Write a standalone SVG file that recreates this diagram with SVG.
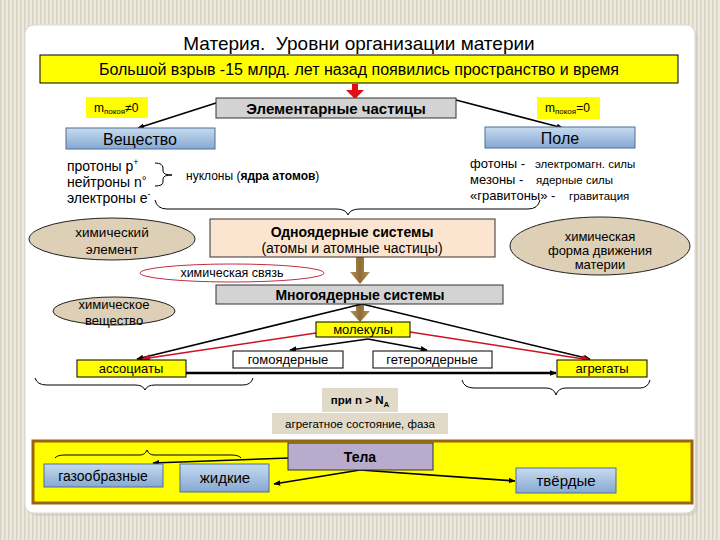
<svg xmlns="http://www.w3.org/2000/svg" width="720" height="540" viewBox="0 0 720 540">
<defs>
<pattern id="stripes" width="4" height="4" patternUnits="userSpaceOnUse">
<rect width="4" height="4" fill="#ede9df"/>
<rect width="1.5" height="4" fill="#d8d3c3"/>
</pattern>
<linearGradient id="blue" x1="0" y1="0" x2="0" y2="1">
<stop offset="0" stop-color="#c6dbef"/>
<stop offset="1" stop-color="#86a8d2"/>
</linearGradient>
<linearGradient id="brown" x1="0" y1="0" x2="1" y2="0">
<stop offset="0" stop-color="#b8955a"/>
<stop offset="0.5" stop-color="#8e6c35"/>
<stop offset="1" stop-color="#b8955a"/>
</linearGradient>
<marker id="ah" viewBox="0 0 10 10" refX="9" refY="5" markerWidth="7" markerHeight="7" orient="auto" markerUnits="userSpaceOnUse">
<path d="M0,1 L10,5 L0,9 Z" fill="#000"/>
</marker>
<marker id="ahr" viewBox="0 0 10 10" refX="9" refY="5" markerWidth="9" markerHeight="9" orient="auto" markerUnits="userSpaceOnUse">
<path d="M0,1 L10,5 L0,9 Z" fill="#d01020"/>
</marker>
</defs>
<style>
text{font-family:"Liberation Sans",Arial,sans-serif;fill:#000}
.c{text-anchor:middle}
.b{font-weight:bold}
.box{stroke:#000;stroke-width:1}
.yel{fill:#ffff00}
.gray{fill:#d3d3d3;stroke:#333;stroke-width:1}
.blue{fill:url(#blue);stroke:#4f6f96;stroke-width:1}
.tan{fill:#e2dac8}
.ell{fill:#ddd0b6;stroke:#222;stroke-width:1}
.line{stroke:#000;stroke-width:1.6;fill:none}
.red{stroke:#d01020;stroke-width:1.6;fill:none}
.brace{stroke:#000;stroke-width:1;fill:none}
</style>
<rect x="0" y="0" width="720" height="540" fill="url(#stripes)"/>
<rect x="28" y="28" width="670" height="488" rx="9" fill="#cfcabd" opacity="0.6"/>
<rect x="25" y="25" width="670" height="488" rx="9" fill="#ffffff" stroke="#dedbd2"/>

<text x="359" y="50" class="c" font-size="19" xml:space="preserve">Материя.  Уровни организации материи</text>

<g id="bigbang">
<rect x="40" y="55" width="638" height="28" class="yel box"/>
<text x="359" y="75" class="c" font-size="16">Большой взрыв -15 млрд. лет назад появились пространство и время</text>
</g>

<g id="connectors">
<path d="M352,84 L358,84 L358,90 L364,90 L355,99 L346,90 L352,90 Z" fill="#e0101a"/>
<line x1="216" y1="103" x2="138" y2="128" class="line" marker-end="url(#ah)"/>
<line x1="456" y1="100" x2="563" y2="128" class="line" marker-end="url(#ah)"/>
<path d="M155,163 Q163,163 163,168 L163,171 Q163,175 172,175 Q163,175 163,179 L163,182 Q163,186 155,186" class="brace"/>
<path d="M155,200 Q157,209 167,209 L336,209 Q346,209 348,215 Q350,209 360,209 L528,209 Q538,209 540,200" class="brace"/>
<path d="M356,257 L364,257 L364,272 L370,272 L360,284 L350,272 L356,272 Z" fill="url(#brown)"/>
<path d="M356,304 L364,304 L364,311 L370,311 L360,322 L350,311 L356,311 Z" fill="url(#brown)"/>
<line x1="362" y1="304" x2="137" y2="359" class="line" marker-end="url(#ah)"/>
<line x1="362" y1="304" x2="590" y2="359" class="line" marker-end="url(#ah)"/>
<line x1="316" y1="333" x2="142" y2="359" class="red" marker-end="url(#ahr)"/>
<line x1="410" y1="332" x2="590" y2="360" class="red" marker-end="url(#ahr)"/>
<line x1="368" y1="339" x2="290" y2="350" class="line" marker-end="url(#ah)"/>
<line x1="368" y1="339" x2="427" y2="350" class="line" marker-end="url(#ah)"/>
<line x1="186" y1="373" x2="556" y2="373" stroke="#000" stroke-width="2.5" marker-end="url(#ah)"/>
<path d="M35,378 Q37,385 47,385 L135,385 Q143,385 145,390 Q147,385 155,385 L243,385 Q251,385 253,378" class="brace"/>
<path d="M462,380 Q464,388 474,388 L546,388 Q554,388 556,395 Q558,388 566,388 L640,388 Q648,388 650,380" class="brace"/>
</g>

<g id="m-nonzero">
<rect x="86" y="97" width="62" height="21" class="yel"/>
<text x="94" y="112" font-size="12">m<tspan font-size="8" dy="2">покоя</tspan><tspan dy="-2">≠0</tspan></text>
</g>
<g id="m-zero">
<rect x="537" y="97" width="63" height="22" class="yel"/>
<text x="545" y="112" font-size="12">m<tspan font-size="8" dy="2">покоя</tspan><tspan dy="-2">=0</tspan></text>
</g>

<g id="elem">
<rect x="216" y="98" width="240" height="20" class="gray"/>
<text x="336" y="114" class="c b" font-size="15">Элементарные частицы</text>
</g>

<g id="veshchestvo">
<rect x="66" y="128" width="149" height="21" class="blue"/>
<text x="140" y="145" class="c" font-size="16" fill="#1a2a50">Вещество</text>
</g>
<g id="pole">
<rect x="485" y="127" width="150" height="21" class="blue"/>
<text x="560" y="144" class="c" font-size="16">Поле</text>
</g>

<g id="particles">
<text x="67" y="171" font-size="14">протоны p<tspan font-size="9" dy="-6">+</tspan></text>
<text x="67" y="187" font-size="14">нейтроны n<tspan font-size="12" dy="-2">°</tspan></text>
<text x="67" y="203" font-size="14">электроны e<tspan font-size="9" dy="-6">-</tspan></text>
<text x="186" y="180" font-size="12">нуклоны (<tspan class="b">ядра атомов</tspan>)</text>
</g>

<g id="field-particles">
<text x="470" y="168" font-size="13">фотоны -</text>
<text x="535" y="168" font-size="11.5">электромагн. силы</text>
<text x="470" y="184" font-size="13">мезоны -</text>
<text x="536" y="184" font-size="11.5">ядерные силы</text>
<text x="470" y="200" font-size="13">«гравитоны» -</text>
<text x="569" y="200" font-size="11.5">гравитация</text>
</g>

<g id="chem-element">
<ellipse cx="112" cy="239" rx="83" ry="21" class="ell"/>
<text x="112" y="237" class="c" font-size="13.5">химический</text>
<text x="112" y="254" class="c" font-size="13.5">элемент</text>
</g>

<g id="mononuclear">
<rect x="210" y="219" width="285" height="38" fill="#fbe4d0" stroke="#333"/>
<text x="352" y="237" class="c b" font-size="14">Одноядерные системы</text>
<text x="352" y="253" class="c" font-size="14">(атомы и атомные частицы)</text>
</g>

<g id="chem-form">
<ellipse cx="600" cy="246" rx="90" ry="29" class="ell"/>
<text x="600" y="241" class="c" font-size="13">химическая</text>
<text x="600" y="255" class="c" font-size="13">форма движения</text>
<text x="600" y="269" class="c" font-size="13">материи</text>
</g>

<g id="chem-bond">
<ellipse cx="232" cy="273" rx="92" ry="9" fill="#fff" stroke="#c03040" stroke-width="1"/>
<text x="232" y="277" class="c" font-size="12.5">химическая связь</text>
</g>

<g id="polynuclear">
<rect x="216" y="285" width="287" height="19" class="gray"/>
<text x="360" y="300" class="c b" font-size="14">Многоядерные системы</text>
</g>

<g id="chem-substance">
<ellipse cx="114" cy="311" rx="61" ry="14" class="ell"/>
<text x="114" y="309" class="c" font-size="13">химическое</text>
<text x="114" y="325" class="c" font-size="13">вещество</text>
</g>

<g id="molecules">
<rect x="316" y="322" width="94" height="15" class="yel box"/>
<text x="363" y="334" class="c" font-size="13">молекулы</text>
</g>

<g id="homo">
<rect x="233" y="351" width="110" height="17" fill="#fff" stroke="#000"/>
<text x="288" y="364" class="c" font-size="13">гомоядерные</text>
</g>
<g id="hetero">
<rect x="373" y="351" width="119" height="17" fill="#fff" stroke="#000"/>
<text x="432" y="364" class="c" font-size="13">гетероядерные</text>
</g>

<g id="associates">
<rect x="77" y="360" width="109" height="17" class="yel box"/>
<text x="131" y="373" class="c" font-size="13">ассоциаты</text>
</g>
<g id="aggregates">
<rect x="557" y="360" width="90" height="17" class="yel box"/>
<text x="602" y="373" class="c" font-size="13">агрегаты</text>
</g>

<g id="condition">
<rect x="322" y="388" width="76" height="24" class="tan"/>
<text x="360" y="404" class="c b" font-size="11.5">при n &gt; N<tspan font-size="8" dy="3">A</tspan></text>
</g>
<g id="state">
<rect x="272" y="413" width="176" height="21" class="tan"/>
<text x="360" y="428" class="c" font-size="11.5">агрегатное состояние, фаза</text>
</g>

<g id="bodies-panel">
<rect x="33" y="441" width="659" height="62" fill="#ffff00" stroke="#9c6412" stroke-width="3"/>
</g>

<g id="bodies-connectors">
<path d="M55,458 Q57,455 65,455 L140,455 Q145,455 147,450 Q149,455 154,455 L231,455 Q239,455 241,458" class="brace"/>
<line x1="289" y1="458" x2="153" y2="463" class="line" marker-end="url(#ah)"/>
<line x1="360" y1="470" x2="274" y2="484" class="line" marker-end="url(#ah)"/>
<line x1="360" y1="470" x2="515" y2="481" class="line" marker-end="url(#ah)"/>
</g>

<g id="bodies">
<rect x="288" y="443" width="145" height="27" fill="#b9abcb" stroke="#333"/>
<text x="360" y="462" class="c b" font-size="14">Тела</text>
</g>
<g id="gas">
<rect x="44" y="464" width="119" height="23" class="blue"/>
<text x="103" y="481" class="c" font-size="14">газообразные</text>
</g>
<g id="liquid">
<rect x="180" y="464" width="89" height="28" class="blue"/>
<text x="225" y="483" class="c" font-size="15">жидкие</text>
</g>
<g id="solid">
<rect x="516" y="468" width="100" height="25" class="blue"/>
<text x="566" y="486" class="c" font-size="15">твёрдые</text>
</g>
</svg>
